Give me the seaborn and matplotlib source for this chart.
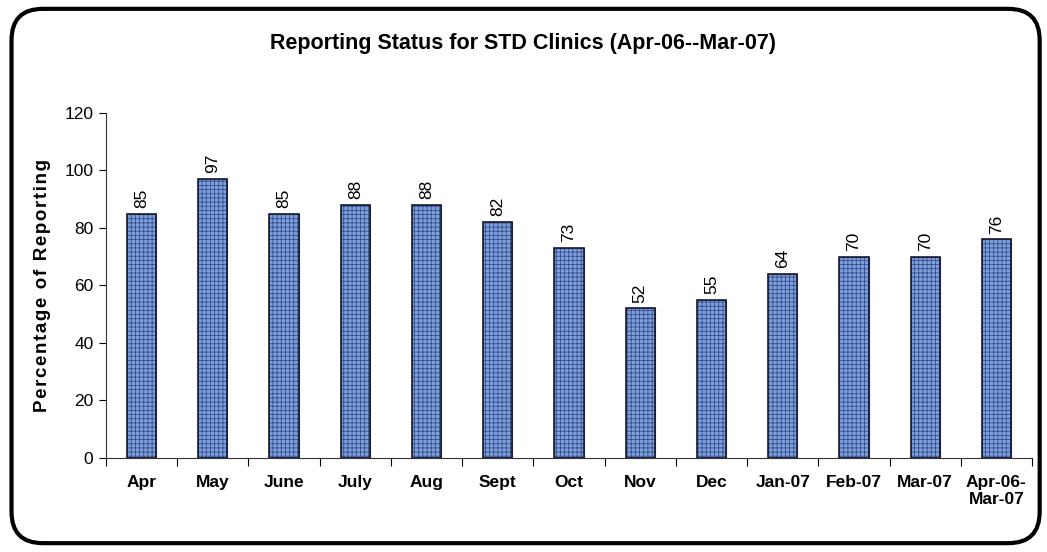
import numpy as np
import pandas as pd
import matplotlib
matplotlib.use('Agg')
import matplotlib.pyplot as plt
from matplotlib.patches import FancyBboxPatch
import seaborn as sns

sns.set_style(style='ticks')
plt.rcParams['font.family'] = ['Liberation Sans', 'DejaVu Sans']
plt.rcParams['hatch.linewidth'] = 0.6
for k in ['text.color', 'axes.labelcolor', 'xtick.color', 'ytick.color']:
    plt.rcParams[k] = 'black'

months = ['Apr', 'May', 'June', 'July', 'Aug', 'Sept', 'Oct', 'Nov', 'Dec',
          'Jan-07', 'Feb-07', 'Mar-07', 'Apr-06-\nMar-07']
reporting = [85, 97, 85, 88, 88, 82, 73, 52, 55, 64, 70, 70, 76]

df = pd.DataFrame({'month': months, 'pct': reporting})

fig = plt.figure(figsize=(10.47, 5.52), dpi=100)
ax = fig.add_axes([0.1012, 0.1703, 0.8845, 0.625])

sns.barplot(data=df, x='month', y='pct', ax=ax, width=0.41,
            color='#7f9fdc', edgecolor='#34508a', linewidth=0.8,
            hatch='++++', saturation=1)
# outline on top of the hatch
sns.barplot(data=df, x='month', y='pct', ax=ax, width=0.41,
            facecolor='none', edgecolor='#1a1a2e', linewidth=1.2)

for i, v in enumerate(reporting):
    ax.text(i, v + 2, str(v), rotation=90, ha='center', va='bottom', fontsize=12.5)

ax.set_ylim(0, 120)
ax.set_yticks(range(0, 121, 20))
ax.set_xlim(-0.5, len(months) - 0.5)
ax.tick_params(axis='y', labelsize=12.5, length=5, width=0.8, pad=4)
ax.tick_params(axis='x', which='major', length=0, pad=12)
ax.set_xticks(np.arange(-0.5, len(months)), minor=True)
ax.tick_params(axis='x', which='minor', length=6, width=0.8)
for lab in ax.get_xticklabels():
    lab.set_fontweight('bold')
    lab.set_fontsize(12.5)

ax.set_xlabel('')
# letter-spaced axis label like the original
ylab = '\u200a'.join('Percentage of Reporting')
ax.set_ylabel(ylab, fontsize=13.5, fontweight='bold', labelpad=10)
for s in ['top', 'right']:
    ax.spines[s].set_visible(False)
for s in ['left', 'bottom']:
    ax.spines[s].set_color('#333333')
    ax.spines[s].set_linewidth(0.8)

fig.text(0.5, 0.922, 'Reporting Status for STD Clinics (Apr-06--Mar-07)',
         ha='center', va='center', fontsize=15.5, fontweight='bold')

border = FancyBboxPatch((0.011, 0.016), 0.982, 0.968, transform=fig.transFigure,
                        boxstyle='round,pad=0,rounding_size=0.03',
                        facecolor='none', edgecolor='black', linewidth=3,
                        mutation_aspect=1047 / 552)
fig.patches.append(border)

fig.savefig('out.png', dpi=100)
